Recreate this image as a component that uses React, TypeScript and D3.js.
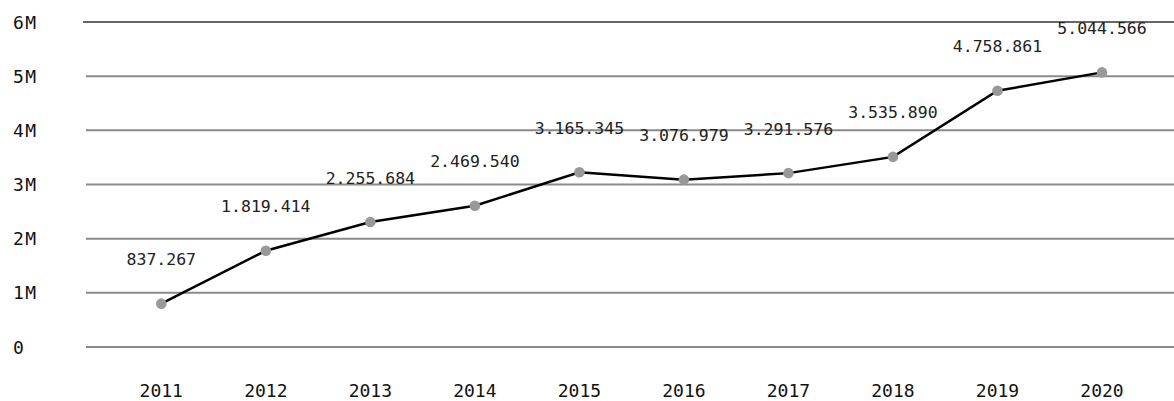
import React from "react";
import * as d3 from "d3";

const years = ["2011", "2012", "2013", "2014", "2015", "2016", "2017", "2018", "2019", "2020"];
// values shown in the labels
const labelValues = [837267, 1819414, 2255684, 2469540, 3165345, 3076979, 3291576, 3535890, 4758861, 5044566];
// plotted positions
const plotValues = [800000, 1778000, 2307000, 2608000, 3225000, 3090000, 3210000, 3510000, 4730000, 5070000];
const yTicks = [0, 1000000, 2000000, 3000000, 4000000, 5000000, 6000000];
const yTickLabels = ["0", "1M", "2M", "3M", "4M", "5M", "6M"];

const W = 1174;
const H = 401;
const FONT = "'DejaVu Sans Mono', monospace";

export default function App() {
  const x = d3.scalePoint<string>().domain(years).range([161.3, 1102]);
  const y = d3.scaleLinear().domain([0, 6000000]).range([347, 22]);
  const loc = d3.formatLocale({ decimal: ",", thousands: ".", grouping: [3], currency: ["", ""] });
  const fmt = loc.format(",d");
  const line = d3
    .line<number>()
    .x((_, i) => x(years[i]) as number)
    .y((d) => y(d));

  return (
    <svg
      width={W}
      height={H}
      style={{ position: "absolute", left: 0, top: 0, background: "#fff" }}
    >
      {yTicks.map((t, i) => (
        <g key={t}>
          <line
            x1={i === yTicks.length - 1 ? 83 : 86}
            x2={W}
            y1={y(t)}
            y2={y(t)}
            stroke={i === yTicks.length - 1 ? "#666" : "#8a8a8a"}
            strokeWidth={2}
          />
          <text
            x={13}
            y={y(t)}
            dominantBaseline="central"
            fontFamily={FONT}
            fontSize={18}
            letterSpacing={1.5}
            fill="#111"
          >
            {yTickLabels[i]}
          </text>
        </g>
      ))}
      {years.map((yr) => (
        <text
          key={yr}
          x={x(yr)}
          y={390}
          textAnchor="middle"
          dominantBaseline="central"
          fontFamily={FONT}
          fontSize={18}
          fill="#111"
        >
          {yr}
        </text>
      ))}
      <path d={line(plotValues) || ""} fill="none" stroke="#000" strokeWidth={2.5} />
      {plotValues.map((v, i) => (
        <circle key={i} cx={x(years[i])} cy={y(v)} r={5.3} fill="#999" />
      ))}
      {plotValues.map((v, i) => (
        <text
          key={"l" + i}
          x={x(years[i])}
          y={y(v) - 44}
          textAnchor="middle"
          dominantBaseline="central"
          fontFamily={FONT}
          fontSize={16.5}
          fill="#222"
        >
          {fmt(labelValues[i])}
        </text>
      ))}
    </svg>
  );
}
